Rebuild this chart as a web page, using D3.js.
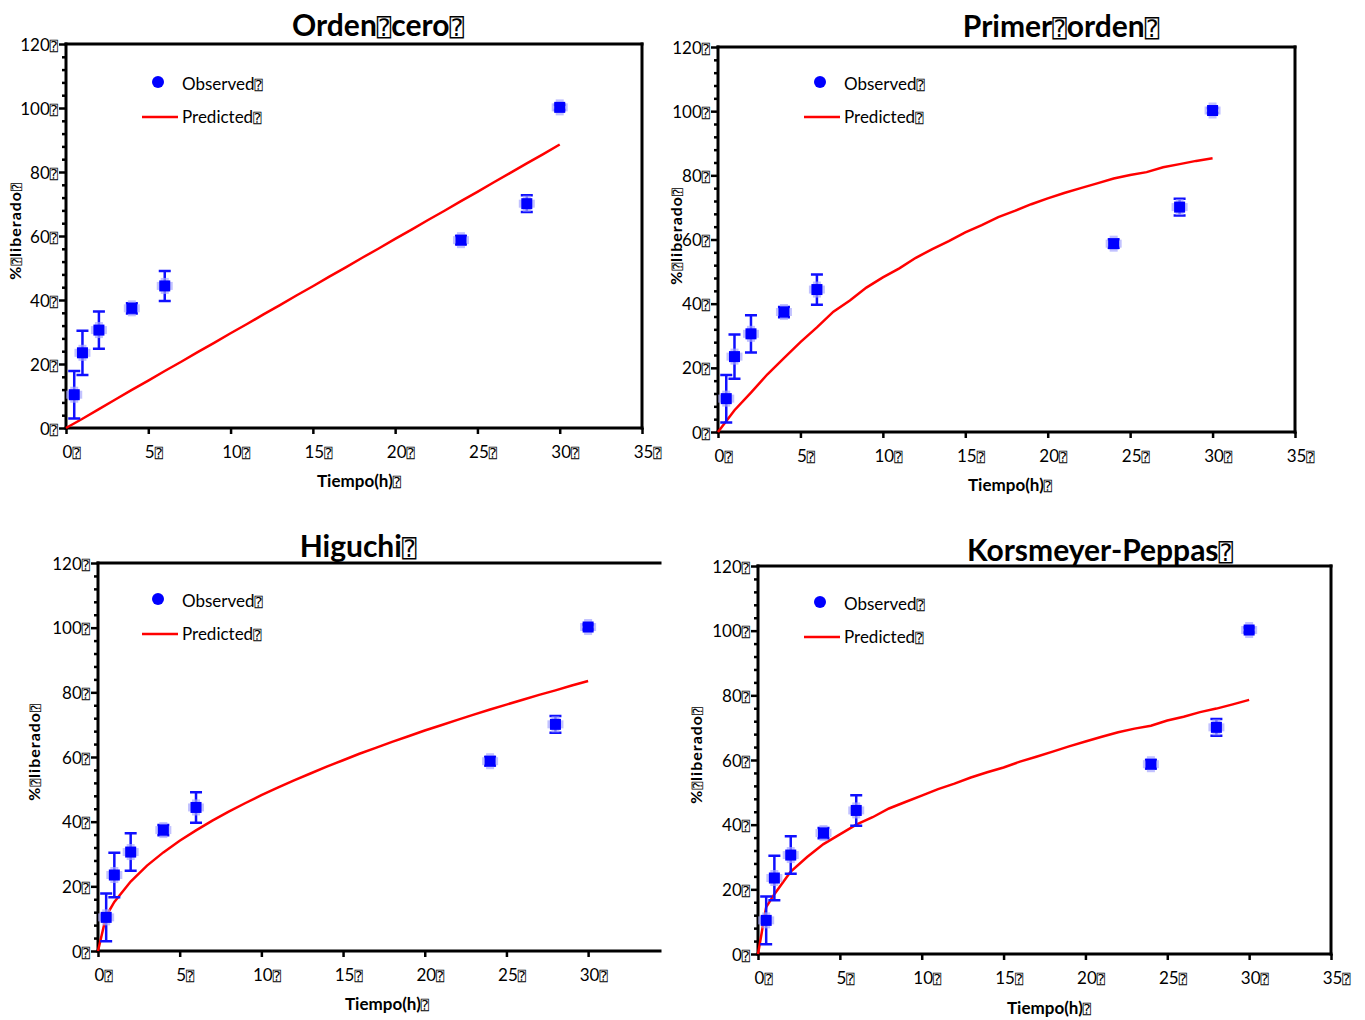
<!DOCTYPE html>
<html>
<head>
<meta charset="utf-8">
<script src="https://cdn.jsdelivr.net/npm/d3@7"></script>
<style>
  body { margin: 0; background: #fff; }
  text { font-family: Lato, "Open Sans", sans-serif; fill: #000; }
  .box { font-family: "DejaVu Sans Mono", "DejaVu Sans", sans-serif; font-size: 0.8em; font-weight: normal; }
</style>
</head>
<body>
<svg id="chart" width="1365" height="1020"></svg>
<script>
// observed release (same in all four fits)
const timeObs = [0.5, 1, 2, 4, 6, 24, 28, 30];
const releaseObs = [10.4, 23.5, 30.6, 37.4, 44.4, 58.7, 70.1, 100.2];
const releaseErr = [7.4, 6.9, 5.8, 1.6, 4.7, 1.3, 2.6, 0.8];

// predicted curves
const timeHourly = [0, 1, 2, 3, 4, 5, 6, 7, 8, 9, 10, 11, 12, 13, 14, 15, 16, 17, 18, 19, 20, 21, 22, 23, 24, 25, 26, 27, 28, 29, 30];
const predZero = [0, 2.9, 5.9, 8.9, 11.9, 14.8, 17.8, 20.7, 23.7, 26.6, 29.6, 32.5, 35.5, 38.4, 41.4, 44.3, 47.3, 50.2, 53.2, 56.1, 59.1, 62.0, 65.0, 67.9, 70.9, 73.8, 76.8, 79.7, 82.7, 85.6, 88.6];
const predFirst = [0, 6.8, 12.3, 18.0, 23.0, 28.0, 32.6, 37.5, 41.0, 45.0, 48.2, 51.0, 54.3, 57.0, 59.5, 62.2, 64.5, 67.0, 68.9, 71.0, 72.8, 74.5, 76.0, 77.5, 79.0, 80.1, 81.0, 82.5, 83.5, 84.5, 85.3];

const timeEarly = [0, 0.5, 1, 2, 3, 4, 5, 6, 7, 8, 9, 10, 11, 12, 13, 14, 15, 16, 17, 18, 19, 20, 21, 22, 23, 24, 25, 26, 27, 28, 29, 30];
const predHiguchi = [0, 10.8, 15.2, 21.5, 26.4, 30.5, 34.1, 37.3, 40.3, 43.1, 45.7, 48.2, 50.5, 52.8, 54.9, 57.0, 59.0, 61.0, 62.8, 64.7, 66.4, 68.2, 69.8, 71.5, 73.1, 74.7, 76.2, 77.7, 79.2, 80.6, 82.1, 83.5];
const predPeppas = [0, 14.5, 18.5, 25.5, 30.0, 34.0, 37.0, 40.0, 42.3, 45.0, 47.0, 49.0, 51.0, 52.7, 54.6, 56.2, 57.7, 59.5, 61.0, 62.6, 64.2, 65.7, 67.2, 68.6, 69.7, 70.6, 72.2, 73.4, 74.8, 75.9, 77.2, 78.6];

const yTicks = [0, 20, 40, 60, 80, 100, 120];
const xTicksFull = [0, 5, 10, 15, 20, 25, 30, 35];
const xTicksShort = [0, 5, 10, 15, 20, 25, 30];

const BOX = "\u2370";

const panels = [
    { title: "Orden" + BOX + "cero" + BOX, time: timeHourly, pred: predZero,
      left: 66, top: 44, right: 642, bottom: 428, xMax: 35, xTicks: xTicksFull, closed: true,
      titleX: 378, titleY: 36, yLabX: 16, yLabY: 231, xLabX: 359, xLabY: 487, legX: 158, legY: 82 },
    { title: "Primer" + BOX + "orden" + BOX, time: timeHourly, pred: predFirst,
      left: 718, top: 47, right: 1295, bottom: 432, xMax: 35, xTicks: xTicksFull, closed: true,
      titleX: 1061, titleY: 37, yLabX: 677, yLabY: 236, xLabX: 1010, xLabY: 491, legX: 820, legY: 82 },
    { title: "Higuchi" + BOX, time: timeEarly, pred: predHiguchi,
      left: 98, top: 563, right: 660, bottom: 951, xMax: 34.4, xTicks: xTicksShort, closed: false,
      titleX: 358, titleY: 557, yLabX: 35, yLabY: 752, xLabX: 387, xLabY: 1010, legX: 158, legY: 599 },
    { title: "Korsmeyer-Peppas" + BOX, time: timeEarly, pred: predPeppas,
      left: 758, top: 566, right: 1331, bottom: 954, xMax: 35, xTicks: xTicksFull, closed: true,
      titleX: 1100, titleY: 561, yLabX: 697, yLabY: 755, xLabX: 1049, xLabY: 1014, legX: 820, legY: 602 }
];

const svg = d3.select("#chart");

// text with the little "missing glyph" boxes of the original
function boxText(sel, str) {
    sel.text(null);
    const parts = str.split(BOX);
    parts.forEach(function(part, i) {
        if (part) sel.append("tspan").text(part);
        if (i < parts.length - 1) sel.append("tspan").attr("class", "box").text(BOX);
    });
}

function drawPanel(p) {
    const x = d3.scaleLinear().domain([0, p.xMax]).range([p.left, p.right]);
    const y = d3.scaleLinear().domain([0, 120]).range([p.bottom, p.top]);
    const g = svg.append("g");

    // minor y ticks
    g.append("g")
        .attr("transform", `translate(${p.left},0)`)
        .call(d3.axisLeft(y).tickValues(d3.range(0, 121, 4).filter(d => d % 20 !== 0)).tickSize(4).tickFormat(""))
        .call(a => a.select(".domain").remove())
        .call(a => a.selectAll("line").attr("stroke-width", 2.5));

    const yAxis = g.append("g")
        .attr("transform", `translate(${p.left},0)`)
        .call(d3.axisLeft(y).tickValues(yTicks).tickSize(7).tickPadding(1).tickFormat(d => d + BOX));
    yAxis.select(".domain").remove();
    yAxis.selectAll("line").attr("stroke-width", 2.5);
    yAxis.selectAll("text").attr("font-size", 17).attr("dy", "0.36em")
        .each(function(d) { boxText(d3.select(this), d + BOX); });

    const xAxis = g.append("g")
        .attr("transform", `translate(0,${p.bottom})`)
        .call(d3.axisBottom(x).tickValues(p.xTicks).tickSize(6).tickPadding(12));
    xAxis.select(".domain").remove();
    xAxis.selectAll("line").attr("stroke-width", 2.5);
    xAxis.selectAll("text").attr("font-size", 17).attr("dx", "0.3em")
        .each(function(d) { boxText(d3.select(this), d + BOX); });

    // frame
    const frame = g.append("g").attr("stroke", "#000").attr("stroke-width", 3).attr("stroke-linecap", "square");
    frame.append("line").attr("x1", p.left).attr("x2", p.left).attr("y1", p.top).attr("y2", p.bottom);
    frame.append("line").attr("x1", p.left).attr("x2", p.right).attr("y1", p.bottom).attr("y2", p.bottom);
    frame.append("line").attr("x1", p.left).attr("x2", p.right).attr("y1", p.top).attr("y2", p.top);
    if (p.closed) {
        frame.append("line").attr("x1", p.right).attr("x2", p.right).attr("y1", p.top).attr("y2", p.bottom);
    }

    // predicted curve
    const line = d3.line().x((d, i) => x(p.time[i])).y(d => y(d));
    g.append("path")
        .datum(p.pred)
        .attr("d", line)
        .attr("fill", "none")
        .attr("stroke", "#ff0000")
        .attr("stroke-width", 2.5);

    // observed points with error bars
    const obs = g.append("g").selectAll("g")
        .data(releaseObs)
        .enter().append("g")
        .attr("transform", (d, i) => `translate(${x(timeObs[i])},${y(d)})`);

    obs.append("path")
        .attr("d", (d, i) => {
            const up = y(d + releaseErr[i]) - y(d);
            const dn = y(d - releaseErr[i]) - y(d);
            return `M0,${up}V${dn}M-6,${up}H6M-6,${dn}H6`;
        })
        .attr("stroke", "#1010ff")
        .attr("stroke-width", 2.5)
        .attr("fill", "none");
    obs.append("rect").attr("x", -8).attr("y", -4).attr("width", 16).attr("height", 8).attr("fill", "#a8a8ff").attr("opacity", 0.7);
    obs.append("rect").attr("x", -4).attr("y", -8).attr("width", 8).attr("height", 16).attr("fill", "#a8a8ff").attr("opacity", 0.7);
    obs.append("rect").attr("x", -5.5).attr("y", -5.5).attr("width", 11).attr("height", 11).attr("fill", "#0000ff");

    // legend
    const leg = g.append("g");
    leg.append("circle").attr("cx", p.legX).attr("cy", p.legY).attr("r", 6).attr("fill", "#0000ff");
    leg.append("text").attr("x", p.legX + 24).attr("y", p.legY + 8).attr("font-size", 17)
        .call(t => boxText(t, "Observed" + BOX));
    leg.append("line")
        .attr("x1", p.legX - 16).attr("x2", p.legX + 20)
        .attr("y1", p.legY + 35).attr("y2", p.legY + 35)
        .attr("stroke", "#ff0000").attr("stroke-width", 2.5);
    leg.append("text").attr("x", p.legX + 24).attr("y", p.legY + 41).attr("font-size", 17)
        .call(t => boxText(t, "Predicted" + BOX));

    // titles
    g.append("text")
        .attr("x", p.titleX).attr("y", p.titleY)
        .attr("text-anchor", "middle").attr("font-size", 30).attr("font-weight", "bold")
        .call(t => boxText(t, p.title));

    g.append("text")
        .attr("transform", `translate(${p.yLabX + 5},${p.yLabY}) rotate(-90)`)
        .attr("text-anchor", "middle").attr("font-size", 16).attr("font-weight", "bold")
        .attr("letter-spacing", 1)
        .call(t => boxText(t, "%" + BOX + "liberado" + BOX));

    g.append("text")
        .attr("x", p.xLabX).attr("y", p.xLabY)
        .attr("text-anchor", "middle").attr("font-size", 17).attr("font-weight", "bold")
        .call(t => boxText(t, "Tiempo(h)" + BOX));
}

panels.forEach(drawPanel);
</script>
</body>
</html>
